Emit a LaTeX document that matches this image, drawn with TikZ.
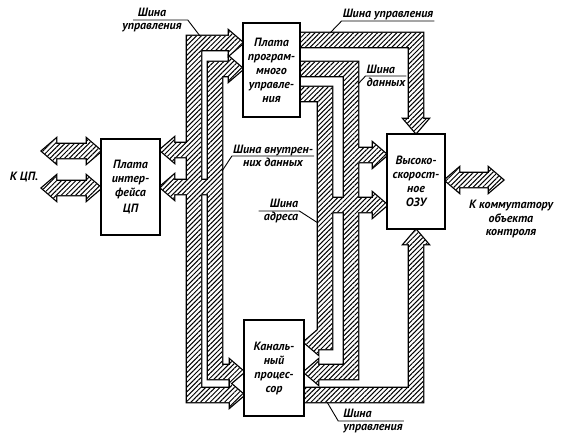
\documentclass[tikz,border=0pt]{standalone}
\usepackage{fontspec}
\setmainfont{PT Sans}
\usepackage{tikz}
\usetikzlibrary{patterns.meta,positioning}

\begin{document}
\begin{tikzpicture}[x=1pt, y=-1pt,
        block/.style={rectangle, draw, line width=1.3pt, fill=white, align=center, inner sep=0pt,
          font=\fontsize{12}{14}\selectfont\bfseries\itshape},
        lbl/.style={align=center, inner sep=1pt, font=\fontsize{12}{13.5}\selectfont\bfseries\itshape},
        leader/.style={line width=0.9pt},
        busedge/.style={draw, line width=2.6pt, line join=miter},
        bushatch/.style={fill=white, postaction={pattern={Lines[angle=45, distance=3.4pt, line width=1pt]}}}]

      \useasboundingbox (0,0) rectangle (576,444);

      % buses: first all outlines, then all fills, so that crossings merge
      \foreach \pass in {busedge, bushatch} {
        % control bus, left side
        \path[\pass] (187,36) -- (229,36) -- (229,31) -- (243,43) -- (229,55) -- (229,50) -- (201,50)
          -- (201,388) -- (230,388) -- (230,383) -- (244,395) -- (230,407) -- (230,402) -- (187,402)
          -- (187,157) -- (174,157) -- (174,162) -- (160,150) -- (174,138) -- (174,143) -- (187,143) -- cycle;
        % internal data bus
        \path[\pass] (208,62) -- (229,62) -- (229,57) -- (243,69) -- (229,81) -- (229,76) -- (222,76)
          -- (222,365) -- (230,365) -- (230,360) -- (244,372) -- (230,384) -- (230,379) -- (208,379)
          -- (208,194) -- (174,194) -- (174,199) -- (160,187) -- (174,175) -- (174,180) -- (208,180) -- cycle;
        % control bus, right side
        \path[\pass] (299,33) -- (423,33) -- (423,119) -- (428,119) -- (416,133) -- (404,119) -- (409,119)
          -- (409,47) -- (299,47) -- cycle;
        \path[\pass] (303,388) -- (409,388) -- (409,244) -- (404,244) -- (416,230) -- (428,244) -- (423,244)
          -- (423,402) -- (303,402) -- cycle;
        % data bus
        \path[\pass] (299,62) -- (358,62) -- (358,148) -- (373,148) -- (373,143) -- (387,155) -- (373,167)
          -- (373,162) -- (358,162) -- (358,379) -- (318,379) -- (318,384) -- (304,372) -- (318,360)
          -- (318,365) -- (344,365) -- (344,76) -- (299,76) -- cycle;
        % address bus
        \path[\pass] (299,87) -- (332,87) -- (332,198) -- (373,198) -- (373,193) -- (387,205) -- (373,217)
          -- (373,212) -- (332,212) -- (332,349) -- (318,349) -- (318,354) -- (304,342) -- (318,330)
          -- (318,101) -- (299,101) -- cycle;
        % external links
        \path[\pass] (42,151) -- (56,139) -- (56,144) -- (87,144) -- (87,139) -- (101,151) -- (87,163)
          -- (87,158) -- (56,158) -- (56,163) -- cycle;
        \path[\pass] (42,188) -- (56,176) -- (56,181) -- (87,181) -- (87,176) -- (101,188) -- (87,200)
          -- (87,195) -- (56,195) -- (56,200) -- cycle;
        \path[\pass] (445,180) -- (459,168) -- (459,173) -- (489,173) -- (489,168) -- (503,180) -- (489,192)
          -- (489,187) -- (459,187) -- (459,192) -- cycle;
      }

      \node[block, minimum width=59pt, minimum height=96pt] (cpu) at (130.5,187) {Плата\\интер-\\фейса\\[2pt]ЦП};
      \node[block, minimum width=57pt, minimum height=94pt] (ppu) at (271.5,70) {Плата\\програм-\\много\\управле-\\ния};
      \node[block, minimum width=58pt, minimum height=95pt] (ozu) at (416,181.5) {Высоко-\\скорост-\\ное\\ОЗУ};
      \node[block, minimum width=60pt, minimum height=96pt] (kp) at (274,368) {Каналь-\\ный\\процес-\\сор};

      \node[lbl] (tocpu) at (24,177) {К ЦП.};
      \node[lbl] (toobj) at (511,219) {К коммутатору\\объекта\\контроля};

      \node[lbl] (lupl) at (152,20) {Шина\\управления};
      \node[lbl, anchor=south] (lupr) at (388,21) {Шина управления};
      \node[lbl, align=left] (ldat) at (386,76) {Шина\\данных};
      \node[lbl] (lvnd) at (273,156) {Шина внутрен-\\них данных};
      \node[lbl, align=right] (ladr) at (281,211) {Шина\\адреса};
      \node[lbl, align=left] (lupb) at (373,421) {Шина\\управления};

      \coordinate (pupl) at (200,36);
      \coordinate (pupr) at (330,33);
      \coordinate (pdat) at (358,84);
      \coordinate (pvnd) at (222,171);
      \coordinate (padr) at (318,223);
      \coordinate (pupb) at (327,402);

      \draw[leader] ([xshift=12pt]lupl.west) -- ([xshift=5pt]lupl.east) -- (pupl);
      \draw[leader] (lupr.south east) -- (lupr.south west) -- (pupr);
      \draw[leader] (ldat.east) -- (ldat.west) -- (pdat);
      \draw[leader] (lvnd.east) -- (lvnd.west) -- (pvnd);
      \draw[leader] ([xshift=-4pt]ladr.west) -- (ladr.east) -- (padr);
      \draw[leader] (lupb.east) -- ([xshift=-4pt]lupb.west) -- (pupb);
    \end{tikzpicture}
\end{document}
